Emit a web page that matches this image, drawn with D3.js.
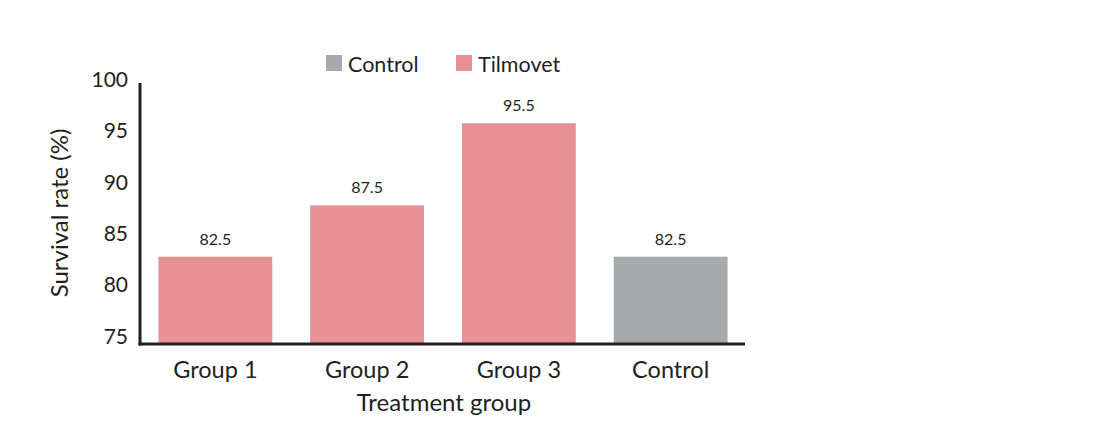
<!DOCTYPE html>
<html>
<head>
<meta charset="utf-8">
<script src="https://cdn.jsdelivr.net/npm/d3@7"></script>
<style>
  body { margin: 0; background: #fff; }
  svg text { font-family: Lato, "Open Sans", sans-serif; fill: #231f20; }
</style>
</head>
<body>
<svg id="chart" width="1100" height="446"></svg>
<script>
const categories = ["Group 1", "Group 2", "Group 3", "Control"];
const values = [82.5, 87.5, 95.5, 82.5];
const seriesOf = ["Tilmovet", "Tilmovet", "Tilmovet", "Control"];
const legendSeries = ["Control", "Tilmovet"];
const yTicks = [75, 80, 85, 90, 95, 100];
const colors = { "Control": "#a7a9ac", "Tilmovet": "#e89195" };

const svg = d3.select("#chart");

const x = d3.scaleBand().domain(categories).range([141, 745]).paddingInner(0.25).paddingOuter(0.115);
const y = d3.scaleLinear().domain([74, 100]).range([344, 77]);

// bars
svg.append("g").selectAll("rect").data(categories).join("rect")
  .attr("x", d => x(d))
  .attr("width", x.bandwidth())
  .attr("y", (d, i) => y(values[i]))
  .attr("height", (d, i) => y(74) - y(values[i]))
  .attr("fill", (d, i) => colors[seriesOf[i]]);

// value labels
svg.append("g").selectAll("text").data(categories).join("text")
  .attr("x", d => x(d) + x.bandwidth() / 2)
  .attr("y", (d, i) => y(values[i]) - 12)
  .attr("text-anchor", "middle")
  .style("font-size", "16px")
  .text((d, i) => values[i].toFixed(1));

// y axis
const yAxis = svg.append("g").attr("transform", "translate(140,0)")
  .call(d3.axisLeft(y).tickValues(yTicks).tickSize(0).tickPadding(12).tickFormat(d3.format("d")));
yAxis.select(".domain").remove();
yAxis.selectAll("text").style("font-size", "21px").style("font-family", "Lato, sans-serif").attr("fill", "#231f20")
  .attr("dy", "0.45em");

// x axis
const xAxis = svg.append("g").attr("transform", "translate(0,344)")
  .call(d3.axisBottom(x).tickSize(0).tickPadding(17));
xAxis.select(".domain").remove();
xAxis.selectAll("text").style("font-size", "23.5px").style("font-family", "Lato, sans-serif").attr("fill", "#231f20");

// axis lines
svg.append("line").attr("x1", 140).attr("x2", 140).attr("y1", 83).attr("y2", y(74) + 1.5)
  .attr("stroke", "#231f20").attr("stroke-width", 3);
svg.append("line").attr("x1", 138.5).attr("x2", 745).attr("y1", y(74)).attr("y2", y(74))
  .attr("stroke", "#231f20").attr("stroke-width", 3);

// axis titles
svg.append("text").attr("x", 444).attr("y", 411).attr("text-anchor", "middle")
  .style("font-size", "24px").text("Treatment group");
svg.append("text").attr("transform", "translate(68,213) rotate(-90)").attr("text-anchor", "middle")
  .style("font-size", "24px").text("Survival rate (%)");

// legend
const leg = svg.append("g");
const legX = [326, 456];
legendSeries.forEach((s, i) => {
  leg.append("rect").attr("x", legX[i]).attr("y", 55).attr("width", 16).attr("height", 16).attr("fill", colors[s]);
  leg.append("text").attr("x", legX[i] + 22).attr("y", 71.5).style("font-size", "21.5px").text(s);
});
</script>
</body>
</html>
